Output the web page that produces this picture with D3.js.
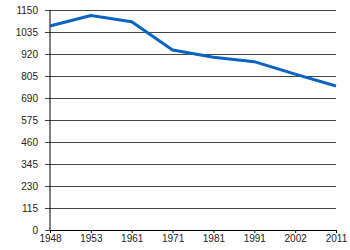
<!DOCTYPE html>
<html>
<head>
<meta charset="utf-8">
<script src="https://cdn.jsdelivr.net/npm/d3@7"></script>
<style>
  body { margin: 0; background: #fff; }
  svg text { font-family: "Liberation Sans", Arial, sans-serif; fill: #222; }
</style>
</head>
<body>
<script>
// census years and values
const years = ["1948", "1953", "1961", "1971", "1981", "1991", "2002", "2011"];
const values = [1066, 1121, 1089, 941, 903, 880, 815, 753];
const yTicks = [0, 115, 230, 345, 460, 575, 690, 805, 920, 1035, 1150];

const width = 350, height = 250;
const margin = {top: 10, right: 14, bottom: 20, left: 50};

const svg = d3.select("body").append("svg")
    .attr("width", width)
    .attr("height", height);

const x = d3.scalePoint()
    .domain(years)
    .range([margin.left, width - margin.right]);

const y = d3.scaleLinear()
    .domain([0, 1150])
    .range([height - margin.bottom, margin.top]);

// y axis with gridlines
svg.append("g")
    .attr("transform", `translate(${margin.left},0)`)
    .call(d3.axisLeft(y).tickValues(yTicks).tickFormat(d3.format("d"))
        .tickSize(-(width - margin.right - margin.left)).tickPadding(7))
    .call(g => g.select(".domain").remove())
    .call(g => g.selectAll(".tick line")
        .attr("x1", -5)
        .attr("stroke", "#444"))
    .call(g => g.selectAll(".tick text")
        .attr("font-size", 10)
        .attr("font-family", null)
        .attr("x", -12));

svg.append("line")
    .attr("x1", margin.left).attr("x2", margin.left)
    .attr("y1", margin.top).attr("y2", height - margin.bottom)
    .attr("stroke", "#000");

// x axis
svg.append("g")
    .attr("transform", `translate(0,${height - margin.bottom})`)
    .call(d3.axisBottom(x).tickSize(3).tickSizeOuter(0).tickPadding(2))
    .call(g => g.select(".domain").attr("stroke", "#000"))
    .call(g => g.selectAll(".tick text")
        .attr("font-size", 10)
        .attr("font-family", null));

const line = d3.line()
    .x((d, i) => x(years[i]))
    .y(d => y(d));

svg.append("path")
    .datum(values)
    .attr("fill", "none")
    .attr("stroke", "#0a64c3")
    .attr("stroke-width", 3)
    .attr("stroke-linejoin", "round")
    .attr("d", line);
</script>
</body>
</html>
